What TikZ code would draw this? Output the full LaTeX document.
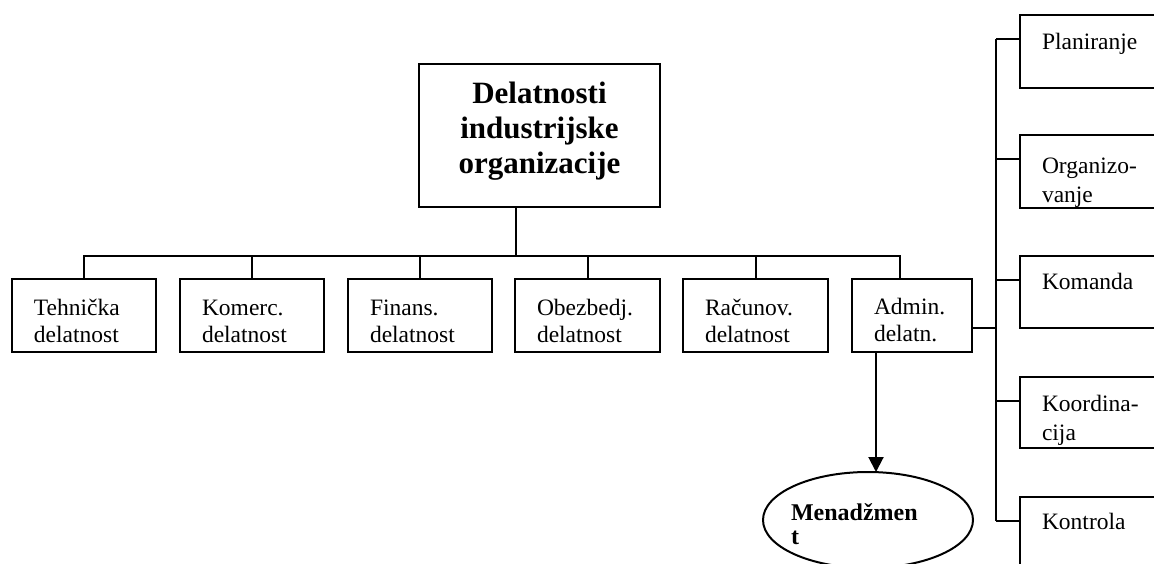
\documentclass[tikz,border=0pt]{standalone}
\usepackage{fontspec}
\setmainfont{Liberation Serif}
\usetikzlibrary{shapes.geometric,arrows.meta,calc}
\begin{document}
\begin{tikzpicture}[x=1pt,y=-1pt,
  line width=2pt,
  box/.style={draw,rectangle,inner sep=0pt,outer sep=0pt,anchor=north west},
  bbox/.style={box,minimum height=73pt},
  rbox/.style={box,minimum width=170pt},
  lbl/.style={anchor=base west,inner sep=0pt,text width=130pt,align=left,
              font=\fontsize{23.5}{27}\selectfont},
  arr/.style={-{Triangle[length=15pt,width=15pt]}}
]
\useasboundingbox (0,0) rectangle (1154,563);
\fill[white] (0,0) rectangle (1154,563);

% main box
\node[box,minimum width=241pt,minimum height=143pt] (main) at (419,64) {};
\node[anchor=base,inner sep=0pt,text width=235pt,align=center,
      font=\bfseries\fontsize{31}{35}\selectfont] (mainT)
      at ($(main.north)+(0,39)$) {Delatnosti\\industrijske\\organizacije};

% lower row
\node[bbox,minimum width=144pt] (tech) at (12,279) {};
\node[bbox,minimum width=144pt] (kom)  at (180,279) {};
\node[bbox,minimum width=144pt] (fin)  at (348,279) {};
\node[bbox,minimum width=145pt] (obez) at (515,279) {};
\node[bbox,minimum width=145pt] (rac)  at (683,279) {};
\node[bbox,minimum width=120pt] (adm)  at (852,279) {};

\node[lbl] (techT) at ($(tech.north west)+(21,36)$) {Tehnička\\delatnost};
\node[lbl] (komT)  at ($(kom.north west)+(21,36)$)  {Komerc.\\delatnost};
\node[lbl] (finT)  at ($(fin.north west)+(21,36)$)  {Finans.\\delatnost};
\node[lbl] (obezT) at ($(obez.north west)+(21,36)$) {Obezbedj.\\delatnost};
\node[lbl] (racT)  at ($(rac.north west)+(21,36)$)  {Računov.\\delatnost};
\node[lbl] (admT)  at ($(adm.north west)+(21,35)$)  {Admin.\\delatn.};

% right column
\node[rbox,minimum height=73pt] (pla) at (1020,15) {};
\node[rbox,minimum height=73pt] (org) at (1020,135) {};
\node[rbox,minimum height=72pt] (kmd) at (1020,256) {};
\node[rbox,minimum height=71pt] (koo) at (1020,377) {};
\node[rbox,minimum height=80pt] (kon) at (1020,497) {};

\node[lbl] (plaT) at ($(pla.north west)+(21,34)$) {Planiranje};
\begin{scope}
  \clip (org.north west) rectangle (org.south east);
  \node[lbl,font=\fontsize{23.5}{29}\selectfont] (orgT) at ($(org.north west)+(21,38)$) {Organizo-\\vanje};
\end{scope}
\node[lbl] (kmdT) at ($(kmd.north west)+(21,33)$) {Komanda};
\begin{scope}
  \clip (koo.north west) rectangle (koo.south east);
  \node[lbl,font=\fontsize{23.5}{29}\selectfont] (kooT) at ($(koo.north west)+(21,34)$) {Koordina-\\cija};
\end{scope}
\node[lbl] (konT) at ($(kon.north west)+(21,32)$) {Kontrola};

% ellipse
\node[draw,ellipse,inner sep=0pt,outer sep=0pt,minimum width=210pt,minimum height=96pt] (ell) at (868,520) {};
\node[anchor=base west,inner sep=0pt,text width=150pt,align=left,
      font=\bfseries\fontsize{24}{24}\selectfont] (ellT) at (790,520) {Menadžmen\\t};

% connectors: main to lower row
\coordinate (bus) at (516,256);
\coordinate (mainDrop) at ([xshift=-23.5pt]main.south);
\coordinate (admDrop) at ([xshift=-12pt]adm.north);
\draw (mainDrop) -- (mainDrop |- bus);
\draw (tech.north) -- (tech.north |- bus) -- (admDrop |- bus) -- (admDrop);
\foreach \n in {kom,fin,obez,rac} \draw (\n.north) -- (\n.north |- bus);

% connectors: admin to right column
\coordinate (admOut) at ([yshift=-12.5pt]adm.east);
\coordinate (rv) at (996,328);
\draw (admOut) -- (admOut -| rv);
\foreach \n in {pla,org,kmd,koo,kon} {
  \coordinate (\n-b) at ($(\n.north west)+(0,24)$);
  \draw (\n-b) -- (\n-b -| rv);
}
\draw (pla-b -| rv) -- (kon-b -| rv);

% arrow to ellipse
\coordinate (arrS) at ([xshift=-36pt]adm.south);
\draw[arr] (arrS) -- (arrS |- ell.north);
\end{tikzpicture}
\end{document}
